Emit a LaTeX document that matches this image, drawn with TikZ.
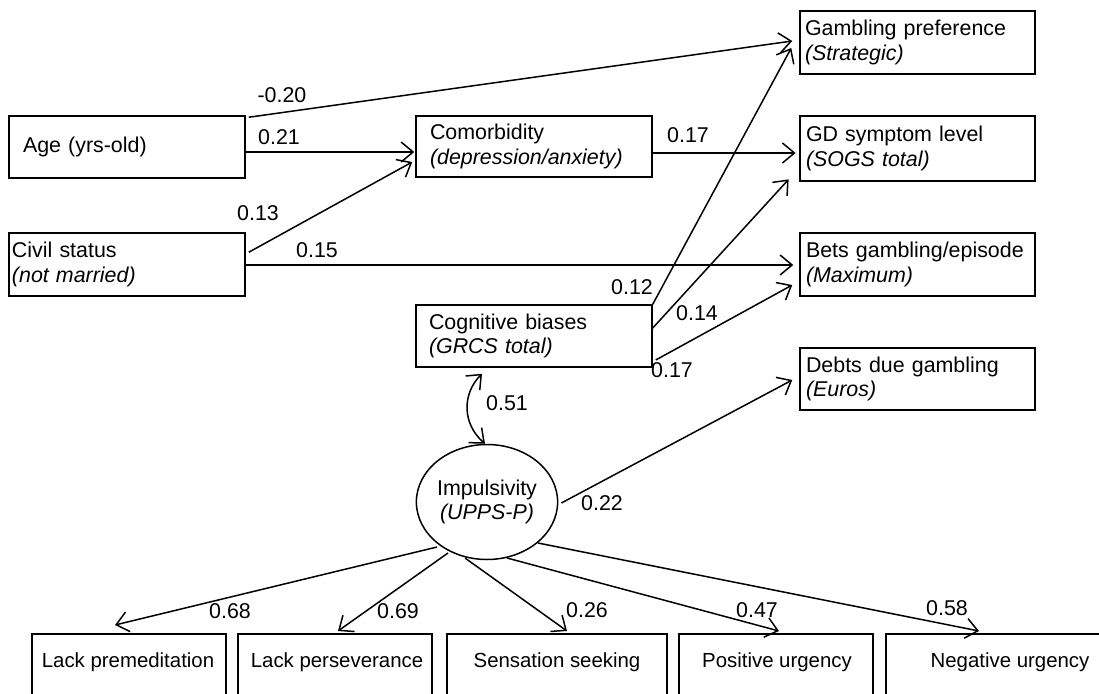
\documentclass[tikz,border=0pt]{standalone}
\usepackage{fontspec}
\setmainfont{Liberation Sans}
\usetikzlibrary{arrows.meta,calc,shapes.geometric}
\newcommand\fsz{\fontsize{21.4}{24.5}\selectfont}
\newcommand\fsb{\fontsize{20.4}{24}\selectfont}
\tikzset{
  rbox/.style={draw, line width=1.5pt, rectangle, inner ysep=0pt, align=left, font=\fsz},
  bbox/.style={draw, line width=1.5pt, rectangle, minimum height=80pt, anchor=north},
  lab/.style={font=\fsz, inner sep=0pt},
  blab/.style={font=\fsb, inner sep=0pt},
  arr/.style={line width=1.5pt, -{Straight Barb[length=12pt,width=20pt,line width=1.5pt]}},
  darr/.style={line width=1.5pt, {Straight Barb[length=12pt,width=20pt,line width=1.5pt]}-{Straight Barb[length=12pt,width=20pt,line width=1.5pt]}}
}
\begin{document}
\begin{tikzpicture}[x=1pt,y=-1pt]
\useasboundingbox (0,0) rectangle (1099,693);
\fill[white] (0,0) rectangle (1099,693);
\clip (0,0) rectangle (1099,693);
% left column
\node[rbox, minimum height=62pt, text width=208pt, inner xsep=14pt] (age) at (127,147) {Age (yrs-old)};
\node[rbox, minimum height=63pt, text width=230pt, inner xsep=3pt] (civ) at (127,264.5) {Civil status\\\textit{(not married)}};
% middle column
\node[rbox, minimum height=61pt, text width=208pt, inner xsep=14pt] (com) at (534,146.5) {Comorbidity\\\textit{(depression/anxiety)}};
\node[rbox, minimum height=62pt, text width=210pt, inner xsep=13pt] (cb) at (534,336) {Cognitive biases\\\textit{(GRCS total)}};
\node[draw, line width=1.5pt, ellipse, minimum width=140pt, minimum height=115pt, inner sep=0pt, align=center, font=\fsz] (imp) at (487,502) {Impulsivity\\\textit{(UPPS-P)}};
% right column
\node[rbox, minimum height=63pt, text width=225pt, inner xsep=5pt] (gp) at (917.5,42.5) {Gambling preference\\\textit{(Strategic)}};
\node[rbox, line width=2.8pt, minimum height=65pt, text width=223pt, inner xsep=6pt] (gd) at (917.5,148.5) {GD symptom level\\\textit{(SOGS total)}};
\node[rbox, minimum height=63pt, text width=223pt, inner xsep=6pt] (bets) at (917.5,264.5) {Bets gambling/episode\\\textit{(Maximum)}};
\node[rbox, minimum height=62pt, text width=223pt, inner xsep=6pt] (debts) at (917.5,379) {Debts due gambling\\\textit{(Euros)}};
% bottom row
\node[bbox, minimum width=194pt] (lp) at (129,633) {};
\node[bbox, minimum width=194pt] (lv) at (335,633) {};
\node[bbox, minimum width=220pt] (ss) at (557,633) {};
\node[bbox, minimum width=194pt] (pu) at (776,633) {};
\node[bbox, minimum width=240pt] (nu) at (1006,633) {};
\node[blab] at ($(lp.north)+(-1,29)$) {Lack premeditation};
\node[blab] at ($(lv.north)+(2,29)$) {Lack perseverance};
\node[blab] at ($(ss.north)+(0,29)$) {Sensation seeking};
\node[blab] at ($(pu.north)+(1,29)$) {Positive urgency};
\node[blab] at ($(nu.north)+(4,29)$) {Negative urgency};
% connectors
\draw[arr] ($(age.north east)+(3,2)$) -- ($(gp.west)+(-7,-1.5)$);
\draw[arr] ($(age.east)+(0,5)$) -- ($(com.west)+(-1,5.5)$);
\draw[arr] ($(civ.north east)+(3,20)$) -- ($(com.west)+(-3,15.5)$);
\draw[arr] ($(civ.east)+(0,0.5)$) -- ($(bets.west)+(-6,0.5)$);
\draw[arr] ($(com.east)+(0,6.5)$) -- ($(gd.west)+(-3,4.5)$);
\draw[arr] (cb.north east) -- ($(gp.west)+(-8,5.5)$);
\draw[arr] ($(cb.east)+(0,-8)$) -- ($(gd.south west)+(-10,-3)$);
\draw[arr] ($(cb.east)+(3,24)$) -- ($(bets.west)+(-7,20.5)$);
\draw[arr] ($(imp.east)+(3,1)$) -- ($(debts.west)+(-7,1)$);
\draw[darr] ($(cb.south)+(-52,6)$) .. controls ($(cb.south)+(-72,26)$) and ($(imp.north)+(-25,-20)$) .. ($(imp.north)+(-2,0)$);
\draw[arr] ($(imp.center)+(-50,45)$) -- ($(lp.north)+(-14,-8)$);
\draw[arr] ($(imp.center)+(-39,51)$) -- ($(lv.north)+(3,-2)$);
\draw[arr] ($(imp.center)+(-22,56)$) -- ($(ss.north)+(10,-2)$);
\draw[arr] ($(imp.center)+(20,56)$) -- ($(pu.north)+(3,-2)$);
\draw[arr] ($(imp.center)+(51,41)$) -- ($(nu.north)+(-27,-2)$);
% coefficients
\node[lab] at (282,95) {-0.20};
\node[lab] at (279,137) {0.21};
\node[lab] at (258,213) {0.13};
\node[lab] at (317,250) {0.15};
\node[lab] at (688,135) {0.17};
\node[lab] at (632,287) {0.12};
\node[lab] at (697,313) {0.14};
\node[lab] at (672,370) {0.17};
\node[lab] at (507,403) {0.51};
\node[lab] at (602,503) {0.22};
\node[lab] at (230,611) {0.68};
\node[lab] at (398,611) {0.69};
\node[lab] at (587,610) {0.26};
\node[lab] at (757,610) {0.47};
\node[lab] at (947,608) {0.58};
\end{tikzpicture}
\end{document}
